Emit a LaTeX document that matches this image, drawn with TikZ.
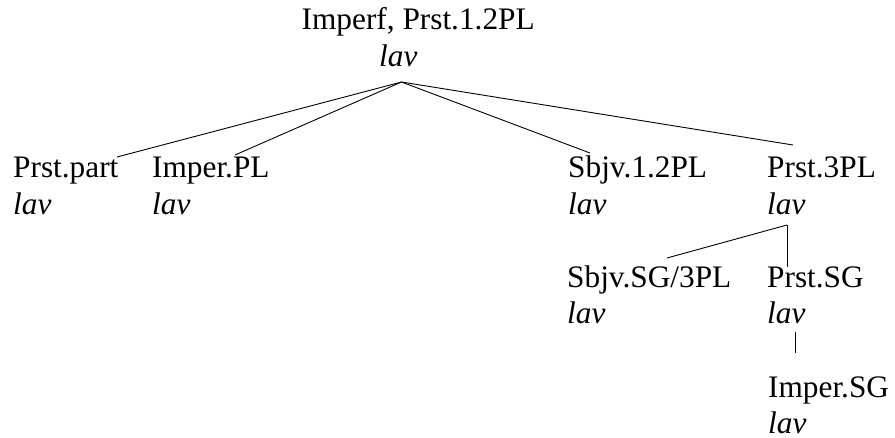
\documentclass[tikz,border=0pt]{standalone}
\usepackage{fontspec}
\setmainfont{Liberation Serif}
\begin{document}
\begin{tikzpicture}[x=1pt,y=-1pt,
  lbl/.style={anchor=base west,inner sep=0pt,font=\fontsize{31.3}{37}\selectfont},
  form/.style={lbl,font=\fontsize{31.3}{37}\selectfont\itshape},
  edge/.style={line width=0.9pt}]
\useasboundingbox (0,0) rectangle (895,438);

% root
\node[lbl]  (root)  at (301.5,30) {Imperf, Prst.1.2PL};
\node[form] (rootl) at (379,67)   {lav};

% second row
\node[lbl]  (pp)   at (13,178)  {Prst.part};
\node[form] (ppl)  at (13,215)  {lav};
\node[lbl]  (ipl)  at (152,178) {Imper.PL};
\node[form] (ipll) at (152,215) {lav};
\node[lbl]  (sbj)  at (568,178) {Sbjv.1.2PL};
\node[form] (sbjl) at (568,215) {lav};
\node[lbl]  (p3)   at (767,178) {Prst.3PL};
\node[form] (p3l)  at (767,215) {lav};

% third row
\node[lbl]  (ssg)  at (567,288) {Sbjv.SG/3PL};
\node[form] (ssgl) at (567,324) {lav};
\node[lbl]  (psg)  at (767,288) {Prst.SG};
\node[form] (psgl) at (767,324) {lav};

% fourth row
\node[lbl]  (isg)  at (768,398) {Imper.SG};
\node[form] (isgl) at (768,433.5) {lav};

% attachment points of the branches
\coordinate (root-foot) at (401.5,82);
\coordinate (pp-head)   at (117,157);
\coordinate (ipl-head)  at (235,155);
\coordinate (sbj-head)  at (590,153);
\coordinate (p3-head)   at (793,145);
\coordinate (p3-foot)   at (787,225);
\coordinate (ssg-head)  at (667,258);
\coordinate (psg-head)  at (787,267);
\coordinate (psg-foot)  at (795,332);
\coordinate (isg-head)  at (795,353);

\draw[edge] (root-foot) -- (pp-head);
\draw[edge] (root-foot) -- (ipl-head);
\draw[edge] (root-foot) -- (sbj-head);
\draw[edge] (root-foot) -- (p3-head);
\draw[edge] (p3-foot) -- (ssg-head);
\draw[edge] (p3-foot) -- (psg-head);
\draw[edge] (psg-foot) -- (isg-head);
\end{tikzpicture}
\end{document}
